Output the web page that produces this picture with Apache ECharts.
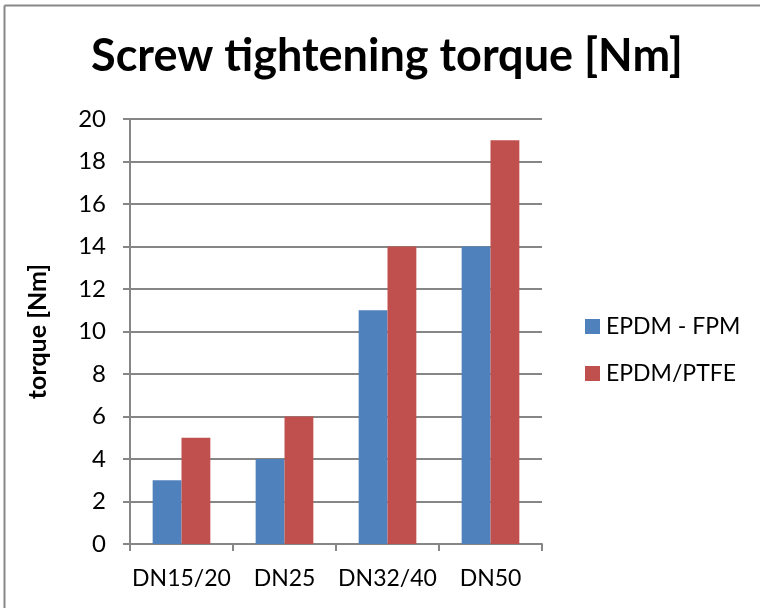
<!DOCTYPE html>
<html>
<head>
<meta charset="utf-8">
<script src="https://cdn.jsdelivr.net/npm/echarts@6/dist/echarts.min.js"></script>
<style>
html,body{margin:0;padding:0;background:#fff;}
#c{width:760px;height:608px;}
</style>
</head>
<body>
<div id="c"></div>
<script>
const categories = ['DN15/20', 'DN25', 'DN32/40', 'DN50'];
const seriesNames = ['EPDM - FPM', 'EPDM/PTFE'];
const epdmFpm = [3, 4, 11, 14];
const epdmPtfe = [5, 6, 14, 19];
const yTicks = { min: 0, max: 20, interval: 2 };
const titleText = 'Screw tightening torque [Nm]';
const yAxisName = 'torque [Nm]';

const chart = echarts.init(document.getElementById('c'), null, { renderer: 'canvas' });
const font = 'Lato';
const gridColor = '#868686';
chart.setOption({
  animation: false,
  backgroundColor: '#fff',
  textStyle: { fontFamily: font },
  title: {
    text: titleText,
    left: 382, top: 29, textAlign: 'center',
    textStyle: { fontFamily: font, fontWeight: 'bold', fontSize: 45, color: '#000' }
  },
  graphic: [
    { type: 'line', silent: true, shape: { x1: 4.5, y1: 5.5, x2: 760, y2: 5.5 },
      style: { stroke: '#888', lineWidth: 2 } },
    { type: 'line', silent: true, shape: { x1: 4.5, y1: 5.5, x2: 4.5, y2: 608 },
      style: { stroke: '#888', lineWidth: 2 } }
  ],
  legend: {
    orient: 'vertical', left: 585, top: 315, padding: 0,
    itemWidth: 15, itemHeight: 15, itemGap: 24,
    icon: 'rect',
    textStyle: { fontFamily: font, fontSize: 23, color: '#000', padding: [0, 0, 0, 1] },
    data: seriesNames
  },
  grid: { left: 130, right: 218, top: 119, bottom: 64, containLabel: false },
  xAxis: {
    type: 'category', data: categories,
    axisLine: { lineStyle: { color: gridColor, width: 2 } },
    axisTick: { show: true, length: 7, alignWithLabel: false, lineStyle: { color: gridColor, width: 2 } },
    axisLabel: { fontFamily: font, fontSize: 23, color: '#000', margin: 23, interval: 0 }
  },
  yAxis: {
    type: 'value', min: yTicks.min, max: yTicks.max, interval: yTicks.interval,
    name: yAxisName, nameLocation: 'middle', nameGap: 80, nameRotate: 90,
    nameTextStyle: { fontFamily: font, fontWeight: 'bold', fontSize: 25, color: '#000' },
    axisLine: { show: true, lineStyle: { color: gridColor, width: 2 } },
    axisTick: { show: true, length: 7, lineStyle: { color: gridColor, width: 2 } },
    axisLabel: { fontFamily: font, fontSize: 24, color: '#000', margin: 24 },
    splitLine: { show: true, lineStyle: { color: gridColor, width: 2 } }
  },
  series: [
    { name: seriesNames[0], type: 'bar', data: epdmFpm, barGap: '0%', barCategoryGap: '44%',
      itemStyle: { color: '#4F81BD' } },
    { name: seriesNames[1], type: 'bar', data: epdmPtfe, barGap: '0%', barCategoryGap: '44%',
      itemStyle: { color: '#C0504D' } }
  ]
});
</script>
</body>
</html>
